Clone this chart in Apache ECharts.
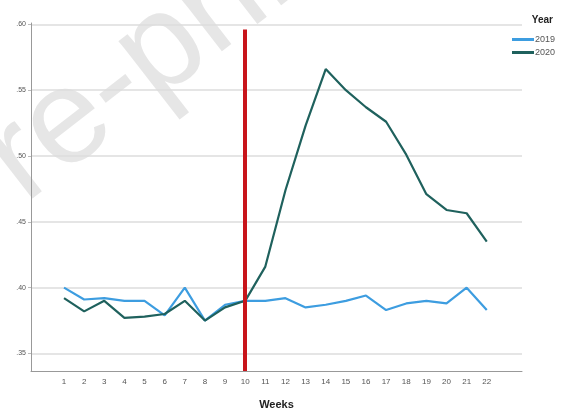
<!DOCTYPE html>
<html><head><meta charset="utf-8">
<style>html,body{margin:0;padding:0;background:#fff}#c{width:572px;height:415px}</style>
<script src="https://cdn.jsdelivr.net/npm/echarts@6/dist/echarts.min.js"></script>
</head><body><div id="c"></div>
<script>
const weeks = [1,2,3,4,5,6,7,8,9,10,11,12,13,14,15,16,17,18,19,20,21,22];
const y2019 = [0.400,0.391,0.392,0.390,0.390,0.379,0.400,0.375,0.387,0.390,0.390,0.392,0.385,0.387,0.390,0.394,0.383,0.388,0.390,0.388,0.400,0.383];
const y2020 = [0.392,0.382,0.390,0.377,0.378,0.380,0.390,0.375,0.385,0.390,0.416,0.474,0.523,0.566,0.550,0.537,0.526,0.501,0.471,0.459,0.4565,0.435];
const yTicks = [0.35,0.40,0.45,0.50,0.55,0.60];
const markWeek = 10;
const seriesNames = ['2019','2020'];

const chart = echarts.init(document.getElementById('c'), null, {renderer:'canvas'});
chart.setOption({
  animation:false,
  textStyle:{fontFamily:'Arial, "Liberation Sans", sans-serif'},
  graphic:[{
    type:'text', z:-10, x:-69, y:230, rotation:0.66,
    style:{text:'Pre-print', fontSize:135, fill:'#e6e6e6', fontFamily:'Arial, "Liberation Sans", sans-serif', textVerticalAlign:'middle'}
  }],
  legend:{
    right:12, top:30, orient:'vertical', itemWidth:22, itemHeight:3, itemGap:4,
    icon:'rect',
    textStyle:{fontSize:9, color:'#555', padding:[0,0,0,-4]},
    data:seriesNames
  },
  title:{text:'Year', right:14, top:10, textStyle:{fontSize:10, fontWeight:'bold', color:'#222'}},
  grid:{left:31, right:50, top:23, bottom:42, containLabel:false},
  xAxis:{
    type:'value', min:-0.64, max:23.75,
    name:'Weeks', nameLocation:'middle', nameGap:28,
    nameTextStyle:{fontSize:11, fontWeight:'bold', color:'#222'},
    axisLine:{onZero:false, lineStyle:{color:'#999', width:1}},
    axisTick:{show:false, customValues:weeks},
    axisLabel:{customValues:weeks, fontSize:8, color:'#555', margin:7},
    splitLine:{show:false}
  },
  yAxis:{
    type:'value', min:0.3367, max:0.601,
    axisLine:{show:true, onZero:false, lineStyle:{color:'#999', width:1}},
    axisTick:{show:true, length:3, customValues:yTicks, lineStyle:{color:'#bbb'}},
    axisLabel:{customValues:yTicks, fontSize:7, color:'#555', margin:5,
      formatter:v=>v.toFixed(2).replace(/^0/,'')},
    splitLine:{show:true, lineStyle:{color:'#dcdcdc', width:1.5}}
  },
  series:[
    {name:'2019', type:'line', data:weeks.map((w,i)=>[w,y2019[i]]), symbol:'none',
     lineStyle:{color:'#3d9de0', width:2.2}, itemStyle:{color:'#3d9de0'}, z:3},
    {name:'2020', type:'line', data:weeks.map((w,i)=>[w,y2020[i]]), symbol:'none',
     lineStyle:{color:'#1f615d', width:2.2}, itemStyle:{color:'#1f615d'}, z:4,
     markLine:{silent:true, symbol:'none', label:{show:false},
       lineStyle:{color:'#c8151b', width:4, type:'solid'},
       data:[[{coord:[markWeek,0.596]},{coord:[markWeek,0.3367]}]]}}
  ]
});
</script></body></html>
